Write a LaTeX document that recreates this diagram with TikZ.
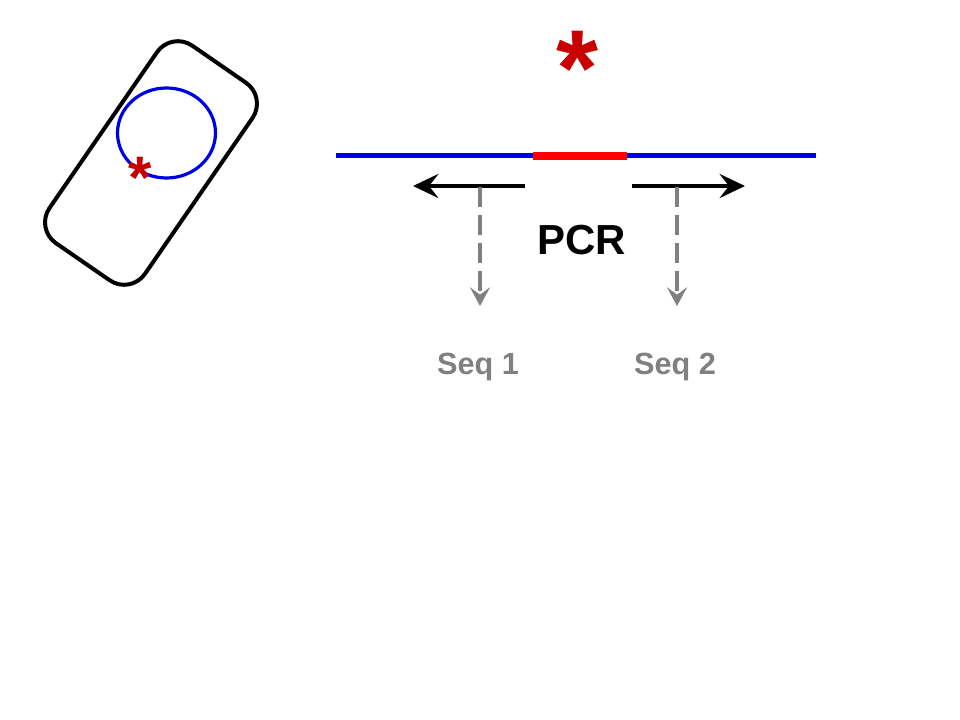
\documentclass[tikz,border=0pt]{standalone}
\usepackage{fontspec}
\setmainfont{Liberation Sans}
\usetikzlibrary{arrows.meta}
\definecolor{dnablue}{RGB}{0,0,230}
\definecolor{mutred}{RGB}{255,0,0}
\definecolor{stared}{RGB}{200,0,0}
\definecolor{seqgrey}{RGB}{128,128,128}
\tikzset{
  primer/.style={line width=3.5pt,-{Stealth[length=19pt,width=18pt,inset=7pt]}},
  seqarrow/.style={draw=seqgrey,line width=3pt,dash pattern=on 15pt off 6pt,
    -{Stealth[length=14pt,width=15pt,inset=5.5pt]}},
  seqlabel/.style={text=seqgrey,font=\bfseries\fontsize{23}{27}\selectfont,anchor=base,inner sep=0pt},
  starlabel/.style={text=stared,font=\bfseries,anchor=base,inner sep=0pt},
}
\begin{document}
\begin{tikzpicture}[x=0.75pt,y=-0.75pt]
\useasboundingbox (0,0) rectangle (960,720);
% cell
\node[draw,line width=3pt,rounded corners=19pt,minimum width=87pt,minimum height=180pt,
  rotate=-34.6,inner sep=0pt] (cell) at (151,163) {};
\draw[dnablue,line width=2.4pt] (166.5,133) ellipse (49 and 45);
\node[starlabel,font=\bfseries\fontsize{45}{50}\selectfont] (smallstar) at (140,199) {*};
% DNA
\coordinate (dnaL) at (336,155.5);
\coordinate (dnaR) at (816,155.5);
\coordinate (mutL) at (533,156);
\coordinate (mutR) at (627,156);
\draw[dnablue,line width=4pt] (dnaL) -- (dnaR);
\draw[mutred,line width=6.2pt] (mutL) -- (mutR);
\node[starlabel,font=\bfseries\fontsize{81}{90}\selectfont] (bigstar) at (578,106) {*};
% primers
\coordinate (p1s) at (525,186);
\coordinate (p1e) at (413,186);
\coordinate (p2s) at (632,186);
\coordinate (p2e) at (745,186);
\draw[primer] (p1s) -- (p1e);
\draw[primer] (p2s) -- (p2e);
\node[font=\bfseries\fontsize{31.5}{36}\selectfont,anchor=base,inner sep=0pt] (pcr) at (581.5,255) {PCR};
% sequencing
\coordinate (s1s) at (480,187);
\coordinate (s1e) at (480,306);
\coordinate (s2s) at (677,187);
\coordinate (s2e) at (677,306);
\draw[seqarrow] (s1s) -- (s1e);
\draw[seqarrow] (s2s) -- (s2e);
\node[seqlabel] (seq1) at (478,374) {Seq 1};
\node[seqlabel] (seq2) at (675,374) {Seq 2};
\end{tikzpicture}
\end{document}
